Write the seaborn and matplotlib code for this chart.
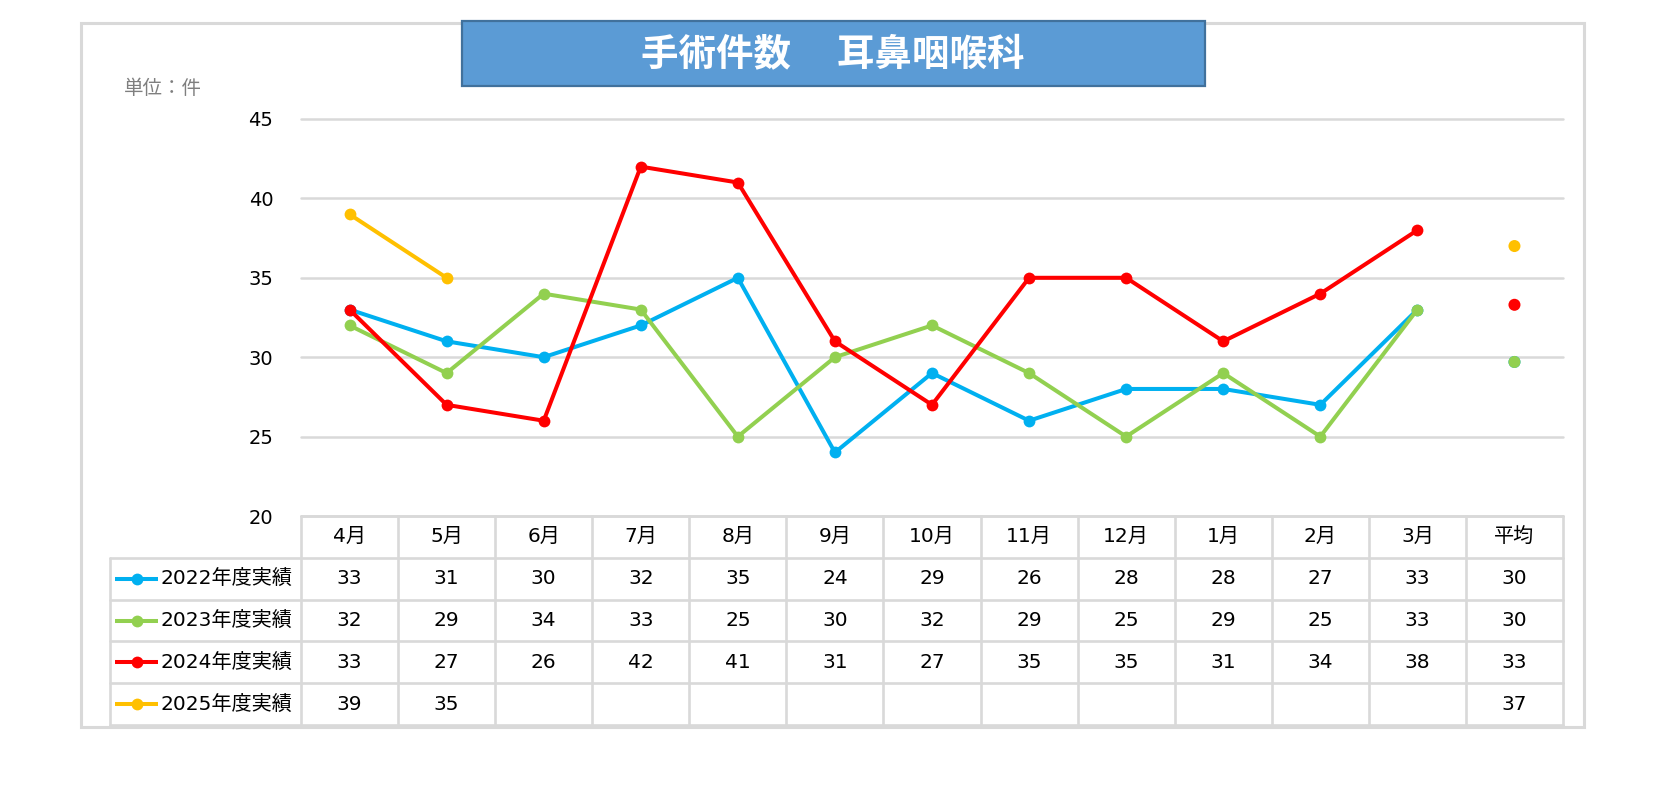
import matplotlib
matplotlib.use("Agg")
import matplotlib.pyplot as plt
from matplotlib.patches import Rectangle
import seaborn as sns
import pandas as pd
import numpy as np

# ---- data ----
months = ['4月', '5月', '6月', '7月', '8月', '9月', '10月', '11月', '12月', '1月', '2月', '3月']
avg_label = '平均'
series_names = ['2022年度実績', '2023年度実績', '2024年度実績', '2025年度実績']
fy2022 = [33, 31, 30, 32, 35, 24, 29, 26, 28, 28, 27, 33]
fy2023 = [32, 29, 34, 33, 25, 30, 32, 29, 25, 29, 25, 33]
fy2024 = [33, 27, 26, 42, 41, 31, 27, 35, 35, 31, 34, 38]
fy2025 = [39, 35, None, None, None, None, None, None, None, None, None, None]
averages = [29.7, 29.7, 33.3, 37.0]
avg_texts = ['30', '30', '33', '37']
colors = ['#00B0F0', '#92D050', '#FF0000', '#FFC000']
title = '手術件数　 耳鼻咽喉科'
unit_label = '単位：件'
yticks = [20, 25, 30, 35, 40, 45]

sns.set_theme(style="white")
plt.rcParams['font.family'] = ['DejaVu Sans', 'Noto Sans CJK JP']

W, H = 1654, 790
fig = plt.figure(figsize=(W / 100, H / 100), dpi=100)

all_series = [fy2022, fy2023, fy2024, fy2025]
rows = []
for name, vals in zip(series_names, all_series):
    for i, v in enumerate(vals):
        if v is not None:
            rows.append({'x': i, 'value': v, 'series': name})
df = pd.DataFrame(rows)
df_avg = pd.DataFrame({'x': [len(months)] * len(series_names), 'value': averages, 'series': series_names})
palette = dict(zip(series_names, colors))

# outer border
fig.add_artist(Rectangle((81 / W, 1 - 727 / H), (1584 - 81) / W, (727 - 23) / H,
                         transform=fig.transFigure, fill=False, ec='#D9D9D9', lw=2.2))

# main axes
ax = fig.add_axes([301 / W, 1 - 516 / H, (1563 - 301) / W, (516 - 119) / H])
sns.lineplot(data=df, x='x', y='value', hue='series', hue_order=series_names, palette=palette,
             marker='o', markersize=8.5, markeredgewidth=0, linewidth=2.9, legend=False, ax=ax,
             zorder=3)
sns.scatterplot(data=df_avg, x='x', y='value', hue='series', hue_order=series_names, palette=palette,
                s=75, linewidth=0, legend=False, ax=ax, zorder=3)
ax.set_xlim(-0.5, len(months) + 0.5)
ax.set_ylim(20, 45)
ax.set_yticks(yticks)
ax.set_xticks([])
ax.set_xlabel('')
ax.set_ylabel('')
ax.yaxis.grid(True, color='#D9D9D9', lw=1.8)
for gl in ax.get_ygridlines():
    gl.set_clip_on(False)
ax.set_axisbelow(True)
sns.despine(ax=ax, left=True, bottom=True)
ax.tick_params(axis='y', length=0, pad=20, labelsize=14, labelcolor='#000000')
ax.patch.set_alpha(0)

# unit label
fig.text(124 / W, 1 - 89 / H, unit_label, fontsize=14, color='#7F7F7F', ha='left', va='center',
         family=['Noto Sans CJK JP', 'DejaVu Sans'])

# title box
fig.add_artist(Rectangle((462 / W, 1 - 86 / H), (1205 - 462) / W, (86 - 21) / H,
                         transform=fig.transFigure, fc='#5B9BD5', ec='#41719C', lw=1.6, zorder=5))
fig.text(833 / W, 1 - 55 / H, title, fontsize=27, fontweight='bold', color='white',
         ha='center', va='center', zorder=6, family=['Noto Sans CJK JP', 'DejaVu Sans'])

# data table
colw = (1563 - 301) / 13.0
legw = (301 - 110) / colw
ta = fig.add_axes([110 / W, 1 - 725 / H, (1563 - 110) / W, (725 - 516) / H])
x0 = -0.5 - legw
ta.set_xlim(x0, len(months) + 0.5)
ta.set_ylim(5, 0)
ta.axis('off')
lc = '#D9D9D9'
lw = 1.9
ta.plot([-0.5, len(months) + 0.5], [0, 0], color=lc, lw=lw, clip_on=False)
for r in range(1, 6):
    ta.plot([x0, len(months) + 0.5], [r, r], color=lc, lw=lw, clip_on=False)
ta.plot([x0, x0], [1, 5], color=lc, lw=lw, clip_on=False)
for k in range(len(months) + 2):
    ta.plot([k - 0.5, k - 0.5], [0, 5], color=lc, lw=lw, clip_on=False)

fs = 14.5
headers = months + [avg_label]
for i, h in enumerate(headers):
    ta.text(i, 0.5, h, ha='center', va='center', fontsize=fs, color='black')

def px2x(px):
    return x0 + (px - 110) / colw

for r, (name, vals, c, at) in enumerate(zip(series_names, all_series, colors, avg_texts)):
    yc = r + 1.5
    ta.plot([px2x(115), px2x(158)], [yc, yc], color=c, lw=2.9, solid_capstyle='butt', clip_on=False)
    ta.plot([px2x(137)], [yc], marker='o', color=c, markersize=8.5, markeredgewidth=0, clip_on=False)
    ta.text(px2x(160), yc, name, ha='left', va='center', fontsize=fs, color='black')
    for i, v in enumerate(vals):
        if v is not None:
            ta.text(i, yc, str(v), ha='center', va='center', fontsize=fs, color='black')
    ta.text(len(months), yc, at, ha='center', va='center', fontsize=fs, color='black')

fig.savefig('out.png', dpi=100, facecolor='white')
